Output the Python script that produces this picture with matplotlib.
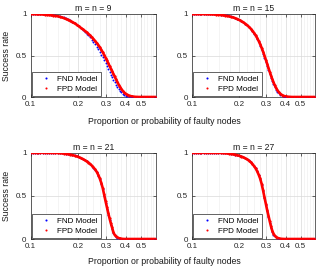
import numpy as np
import matplotlib
matplotlib.use("Agg")
import matplotlib.pyplot as plt
from matplotlib.ticker import FixedLocator, NullFormatter
from matplotlib.lines import Line2D

plt.rcParams['font.family'] = ['Liberation Sans', 'DejaVu Sans']

# Shared proportion / probability of faulty nodes
x = [0.100, 0.103, 0.106, 0.109, 0.112, 0.115, 0.119, 0.123, 0.127, 0.131,
     0.135, 0.139, 0.143, 0.148, 0.153, 0.158, 0.163, 0.168, 0.173, 0.178,
     0.184, 0.190, 0.196, 0.202, 0.208, 0.214, 0.220, 0.226, 0.232, 0.238,
     0.244, 0.250, 0.256, 0.262, 0.268, 0.274, 0.280, 0.286, 0.292, 0.298,
     0.304, 0.310, 0.316, 0.322, 0.328, 0.334, 0.340, 0.347, 0.354, 0.361,
     0.368, 0.376, 0.384, 0.392, 0.400, 0.410, 0.420, 0.430, 0.440, 0.450,
     0.460, 0.472, 0.484, 0.496, 0.508, 0.520, 0.535, 0.550, 0.565, 0.580,
     0.600, 0.620]

titles = ["m = n = 9", "m = n = 15", "m = n = 21", "m = n = 27"]

fnd_9 = [1.000, 1.000, 1.000, 1.000, 0.999, 0.999, 0.998, 0.997, 0.996, 0.994,
         0.992, 0.989, 0.986, 0.981, 0.975, 0.967, 0.958, 0.948, 0.937, 0.924,
         0.908, 0.890, 0.871, 0.851, 0.830, 0.810, 0.788, 0.765, 0.742, 0.718,
         0.692, 0.665, 0.637, 0.607, 0.576, 0.544, 0.511, 0.477, 0.442, 0.407,
         0.372, 0.337, 0.303, 0.270, 0.238, 0.208, 0.180, 0.149, 0.121, 0.096,
         0.075, 0.055, 0.039, 0.027, 0.018, 0.010, 0.005, 0.003, 0.001, 0.000,
         0.000, 0.000, 0.000, 0.000, 0.000, 0.000, 0.000, 0.000, 0.000, 0.000,
         0.000, 0.000]
fpd_9 = [1.000, 1.000, 0.999, 0.998, 0.997, 0.996, 0.994, 0.992, 0.990, 0.988,
         0.985, 0.981, 0.978, 0.973, 0.967, 0.958, 0.950, 0.940, 0.930, 0.918,
         0.903, 0.887, 0.870, 0.852, 0.833, 0.816, 0.798, 0.780, 0.761, 0.742,
         0.720, 0.698, 0.675, 0.651, 0.626, 0.600, 0.570, 0.540, 0.508, 0.475,
         0.442, 0.408, 0.375, 0.343, 0.311, 0.280, 0.250, 0.215, 0.182, 0.150,
         0.122, 0.095, 0.072, 0.054, 0.040, 0.027, 0.018, 0.011, 0.007, 0.004,
         0.002, 0.001, 0.000, 0.000, 0.000, 0.000, 0.000, 0.000, 0.000, 0.000,
         0.000, 0.000]

fnd_15 = [1.000, 1.000, 1.000, 1.000, 1.000, 1.000, 1.000, 1.000, 0.999, 0.999,
          0.998, 0.997, 0.996, 0.994, 0.992, 0.989, 0.986, 0.982, 0.977, 0.971,
          0.963, 0.954, 0.943, 0.930, 0.916, 0.900, 0.883, 0.864, 0.843, 0.819,
          0.793, 0.764, 0.732, 0.697, 0.658, 0.616, 0.571, 0.523, 0.473, 0.422,
          0.371, 0.321, 0.274, 0.230, 0.189, 0.153, 0.121, 0.089, 0.064, 0.045,
          0.030, 0.019, 0.011, 0.006, 0.003, 0.001, 0.000, 0.000, 0.000, 0.000,
          0.000, 0.000, 0.000, 0.000, 0.000, 0.000, 0.000, 0.000, 0.000, 0.000,
          0.000, 0.000]
fpd_15 = [1.000, 1.000, 1.000, 1.000, 1.000, 1.000, 0.999, 0.999, 0.998, 0.997,
          0.996, 0.995, 0.993, 0.991, 0.988, 0.985, 0.981, 0.977, 0.972, 0.966,
          0.958, 0.949, 0.939, 0.926, 0.913, 0.899, 0.883, 0.865, 0.846, 0.825,
          0.801, 0.774, 0.745, 0.712, 0.676, 0.637, 0.594, 0.548, 0.500, 0.450,
          0.400, 0.350, 0.302, 0.257, 0.215, 0.177, 0.143, 0.109, 0.081, 0.059,
          0.042, 0.028, 0.018, 0.011, 0.007, 0.004, 0.002, 0.001, 0.000, 0.000,
          0.000, 0.000, 0.000, 0.000, 0.000, 0.000, 0.000, 0.000, 0.000, 0.000,
          0.000, 0.000]

fnd_21 = [1.000, 1.000, 1.000, 1.000, 1.000, 1.000, 1.000, 1.000, 1.000, 0.999,
          0.999, 0.998, 0.998, 0.997, 0.995, 0.993, 0.991, 0.988, 0.984, 0.980,
          0.974, 0.967, 0.959, 0.950, 0.940, 0.929, 0.916, 0.901, 0.886, 0.869,
          0.849, 0.826, 0.801, 0.771, 0.734, 0.689, 0.636, 0.574, 0.497, 0.420,
          0.349, 0.282, 0.219, 0.163, 0.115, 0.075, 0.046, 0.027, 0.015, 0.008,
          0.004, 0.002, 0.001, 0.000, 0.000, 0.000, 0.000, 0.000, 0.000, 0.000,
          0.000, 0.000, 0.000, 0.000, 0.000, 0.000, 0.000, 0.000, 0.000, 0.000,
          0.000, 0.000]
fpd_21 = [1.000, 1.000, 1.000, 1.000, 1.000, 1.000, 0.999, 0.999, 0.999, 0.998,
          0.998, 0.997, 0.996, 0.995, 0.993, 0.991, 0.988, 0.985, 0.981, 0.976,
          0.970, 0.963, 0.955, 0.946, 0.936, 0.925, 0.912, 0.898, 0.884, 0.868,
          0.849, 0.827, 0.804, 0.777, 0.742, 0.700, 0.650, 0.590, 0.515, 0.440,
          0.370, 0.303, 0.240, 0.183, 0.133, 0.080, 0.050, 0.031, 0.019, 0.011,
          0.006, 0.003, 0.001, 0.000, 0.000, 0.000, 0.000, 0.000, 0.000, 0.000,
          0.000, 0.000, 0.000, 0.000, 0.000, 0.000, 0.000, 0.000, 0.000, 0.000,
          0.000, 0.000]

fnd_27 = [1.000, 1.000, 1.000, 1.000, 1.000, 1.000, 1.000, 1.000, 1.000, 1.000,
          1.000, 0.999, 0.999, 0.998, 0.997, 0.995, 0.993, 0.991, 0.989, 0.986,
          0.981, 0.976, 0.970, 0.963, 0.955, 0.946, 0.935, 0.923, 0.909, 0.892,
          0.871, 0.846, 0.818, 0.783, 0.741, 0.693, 0.630, 0.552, 0.470, 0.393,
          0.318, 0.253, 0.188, 0.130, 0.083, 0.052, 0.032, 0.018, 0.010, 0.005,
          0.002, 0.001, 0.000, 0.000, 0.000, 0.000, 0.000, 0.000, 0.000, 0.000,
          0.000, 0.000, 0.000, 0.000, 0.000, 0.000, 0.000, 0.000, 0.000, 0.000,
          0.000, 0.000]
fpd_27 = [1.000, 1.000, 1.000, 1.000, 1.000, 1.000, 1.000, 1.000, 0.999, 0.999,
          0.999, 0.998, 0.998, 0.997, 0.996, 0.994, 0.992, 0.990, 0.987, 0.984,
          0.979, 0.974, 0.968, 0.961, 0.953, 0.944, 0.933, 0.921, 0.907, 0.890,
          0.869, 0.845, 0.818, 0.785, 0.745, 0.700, 0.640, 0.565, 0.485, 0.410,
          0.335, 0.270, 0.205, 0.145, 0.095, 0.062, 0.040, 0.024, 0.014, 0.008,
          0.004, 0.002, 0.001, 0.000, 0.000, 0.000, 0.000, 0.000, 0.000, 0.000,
          0.000, 0.000, 0.000, 0.000, 0.000, 0.000, 0.000, 0.000, 0.000, 0.000,
          0.000, 0.000]

fnd_series = [fnd_9, fnd_15, fnd_21, fnd_27]
fpd_series = [fpd_9, fpd_15, fpd_21, fpd_27]
legend_labels = ["FND Model", "FPD Model"]
xtick_vals = [0.1, 0.2, 0.3, 0.4, 0.5]
xtick_labels = ["0.1", "0.2", "0.3", "0.4", "0.5"]
ytick_vals = [0, 0.5, 1]
ytick_labels = ["0", "0.5", "1"]
minor_grid = [0.125, 0.15, 0.175, 0.225, 0.25, 0.275, 0.325, 0.35, 0.375,
              0.425, 0.45, 0.475, 0.525, 0.55, 0.575, 0.6]

W, H = 317, 267
fig = plt.figure(figsize=(W / 100, H / 100), dpi=100)

def px_axes(l, t, r, b):
    return fig.add_axes([l / W, 1 - b / H, (r - l) / W, (b - t) / H])

boxes = [(30.7, 14, 155.7, 97), (192, 14, 315.3, 97),
         (30.7, 152.5, 155.7, 239), (192, 152.5, 315.3, 239)]

BLUE = (0, 0, 1)
RED = (1, 0, 0)
fs = 5.8
for i, box in enumerate(boxes):
    ax = px_axes(*box)
    ax.set_xscale('log')
    ax.plot(x, fnd_series[i], linestyle='none', marker='.', color=BLUE,
            markersize=2.8, markeredgewidth=0, zorder=3)
    ax.plot(x, fpd_series[i], linestyle='-', linewidth=1.9, color=RED,
            zorder=4, solid_capstyle='round')
    ax.plot(x, fpd_series[i], linestyle='none', marker='.', color=RED,
            markersize=3.2, markeredgewidth=0, zorder=4)
    ax.set_xlim(0.1, 0.62)
    ax.set_ylim(0, 1)
    ax.xaxis.set_major_locator(FixedLocator(xtick_vals))
    ax.xaxis.set_minor_locator(FixedLocator(minor_grid))
    ax.xaxis.set_minor_formatter(NullFormatter())
    ax.set_xticklabels(xtick_labels)
    ax.set_yticks(ytick_vals)
    ax.set_yticklabels(ytick_labels)
    ax.tick_params(axis='both', which='both', direction='in', labelsize=fs,
                   length=2, width=0.5, top=True, right=True,
                   colors='#262626')
    ax.tick_params(axis='x', which='major', pad=3)
    ax.tick_params(axis='y', which='major', pad=3)
    ax.tick_params(axis='x', which='minor', length=0)
    ax.grid(True, which='major', color='#d9d9d9', linewidth=0.5)
    ax.grid(True, which='minor', axis='x', color='#ececec', linewidth=0.4)
    ax.set_axisbelow(True)
    for s in ax.spines.values():
        s.set_linewidth(0.5)
        s.set_color('#262626')
    ax.set_title(titles[i], fontsize=fs + 0.4, pad=2, color='#1a1a1a')
    if i % 2 == 0:
        ax.set_ylabel("Success rate", fontsize=fs + 0.4, labelpad=3,
                      color='#1a1a1a')
    handles = [Line2D([], [], linestyle='none', marker='.', color=BLUE,
                      markersize=3, markeredgewidth=0),
               Line2D([], [], linestyle='none', marker='.', color=RED,
                      markersize=3, markeredgewidth=0)]
    leg = ax.legend(handles, legend_labels, loc='lower left', fontsize=fs,
                    frameon=True, fancybox=False, borderaxespad=0.15,
                    handlelength=2.6, handletextpad=0.1, borderpad=0.4,
                    labelspacing=0.3, edgecolor='#262626', framealpha=1)
    leg.get_frame().set_linewidth(0.5)

fig.text(164 / W, 1 - 121 / H, "Proportion or probability of faulty nodes",
         ha='center', va='center', fontsize=fs + 0.5, color='#1a1a1a')
fig.text(164 / W, 1 - 262 / H, "Proportion or probability of faulty nodes",
         ha='center', va='center', fontsize=fs + 0.5, color='#1a1a1a')

fig.savefig("out.png", dpi=100)
